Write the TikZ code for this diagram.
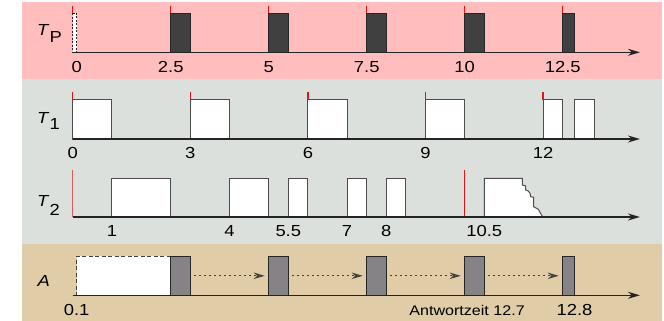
\documentclass[tikz,border=0pt]{standalone}
\usepackage{fontspec}
\setmainfont{Liberation Sans}[FakeStretch=1.15]
\usetikzlibrary{arrows.meta}
\definecolor{bgpink}{RGB}{255,189,189}
\definecolor{bggray}{RGB}{220,224,221}
\definecolor{bgtan}{RGB}{224,204,166}
\definecolor{darkbar}{RGB}{64,64,64}
\definecolor{graybar}{RGB}{134,131,134}
\definecolor{axiscol}{RGB}{35,35,35}
\definecolor{tickred}{RGB}{228,20,20}
\definecolor{softred}{RGB}{214,96,96}
\tikzset{
  axisline/.style={draw=axiscol, line width=1.3pt, -{Stealth[length=12pt,width=7pt]}},
  darkbox/.style={fill=darkbar, draw=black!85, line width=1pt},
  whitebox/.style={fill=white, draw=black!70, line width=1pt},
  graybox/.style={fill=graybar, draw=black!85, line width=1pt, anchor=south west, inner sep=0pt, outer sep=0pt, minimum height=39pt},
  dashbox/.style={draw=black!75, line width=1.1pt, dash pattern=on 4pt off 2.5pt},
  redtick/.style={draw=tickred, line width=1.3pt},
  ticklabel/.style={font=\fontsize{16}{19}\selectfont, inner sep=0pt, text=black},
  smalllabel/.style={font=\fontsize{14}{17}\selectfont, inner sep=0pt, text=black},
  rowlabel/.style={font=\fontsize{16}{19}\selectfont, inner sep=0pt, anchor=base west, text=black},
  waitarrow/.style={draw=black!75, line width=1.2pt, dash pattern=on 1.3pt off 3.7pt,
    -{Stealth[open,length=11pt,width=6.5pt]}, shorten <=4pt, shorten >=4pt}
}
\begin{document}
\begin{tikzpicture}[x=1pt,y=-1pt]
\useasboundingbox (0,0) rectangle (664,321);
% backgrounds
\fill[bgpink] (22,2) rectangle (662,79.3);
\fill[bggray] (22,79.3) rectangle (662,244.3);
\fill[bgtan] (22,244.3) rectangle (662,321);

% row labels
\node[rowlabel] (lp) at (37,36) {\textit{T}\raisebox{-6.3pt}{P}};
\node[rowlabel] (l1) at (37,123.3) {\textit{T}\raisebox{-6pt}{1}};
\node[rowlabel] (l2) at (37,206.7) {\textit{T}\raisebox{-9pt}{2}};
\node[rowlabel] (la) at (37.5,286.7) {\textit{A}};

% jagged (unfinished) job in T2
\draw[whitebox] (484.3,217) -- (484.3,178.3) -- (522.3,178.3) -- (522.3,185) -- (525.7,186) -- (525.7,190)
  -- (528.3,191) -- (530,193.3) -- (530.7,196.7) -- (533.7,197.3) -- (533.7,206.7) -- (538.3,209.3) -- (542.7,217);

\begin{scope}[x=39.2pt, xshift=72.7pt]
  % ---------- T_P ----------
  \foreach \t in {0,2.5,5,7.5,10,12.5} \draw[redtick] (\t,5.7) -- (\t,13.3);
  \fill[white] (0,13.3) rectangle (0.1,52.3);
  \draw[dashbox, draw=black!85, dash pattern=on 2pt off 1.5pt] (0,13.3) rectangle (0.1,52.3);
  \foreach \t in {2.5,5,7.5,10} \draw[darkbox] (\t,13.3) rectangle ++(0.5,39);
  \draw[darkbox] (12.5,13.3) rectangle (12.8,52.3);
  \coordinate (p0) at (0,52.3);
  \coordinate (p1) at (14.47,52.3);
  \draw[axisline] (p0) -- (p1);
  \node[ticklabel] (tp0) at (0.1,66.7) {0};
  \node[ticklabel] (tp1) at (2.5,66.7) {2.5};
  \node[ticklabel] (tp2) at (5,66.7) {5};
  \node[ticklabel] (tp3) at (7.5,66.7) {7.5};
  \node[ticklabel] (tp4) at (10,66.7) {10};
  \node[ticklabel] (tp5) at (12.5,66.7) {12.5};

  % ---------- T_1 ----------
  \foreach \a/\b in {0/1,3/4,6/7,9/10,12/12.5,12.8/13.3} \draw[whitebox] (\a,139) rectangle (\b,99.3);
  \foreach \t in {0,3,6,9,12} \draw[redtick] (\t,92.3) -- (\t,99.8);
  \coordinate (q0) at (0,139);
  \coordinate (q1) at (14.47,139);
  \draw[axisline] (q0) -- (q1);
  \node[ticklabel] (t10) at (0,152.5) {0};
  \node[ticklabel] (t11) at (3,152.5) {3};
  \node[ticklabel] (t12) at (6,152.5) {6};
  \node[ticklabel] (t13) at (9,152.5) {9};
  \node[ticklabel] (t14) at (12,152.5) {12};

  % ---------- T_2 ----------
  \draw[draw=softred, line width=1.3pt] (0,170) -- (0,217);
  \draw[draw=tickred, line width=1.2pt] (10,170) -- (10,217);
  \foreach \a/\b in {1/2.5,4/5,5.5/6,7/7.5,8/8.5} \draw[whitebox] (\a,217) rectangle (\b,178.3);
  \coordinate (r0) at (0,217);
  \coordinate (r1) at (14.47,217);
  \draw[axisline] (r0) -- (r1);
  \node[ticklabel] (t21) at (1,231) {1};
  \node[ticklabel] (t22) at (4,231) {4};
  \node[ticklabel] (t23) at (5.5,231) {5.5};
  \node[ticklabel] (t24) at (7,231) {7};
  \node[ticklabel] (t25) at (8,231) {8};
  \node[ticklabel] (t26) at (10.5,231) {10.5};

  % ---------- A ----------
  \fill[white] (0.1,256.3) rectangle (2.5,295.3);
  \draw[dashbox] (2.5,256.3) -- (0.1,256.3) -- (0.1,295.3);
  \node[graybox, minimum width=19.6pt] (g1) at (2.5,295.3) {};
  \node[graybox, minimum width=19.6pt] (g2) at (5,295.3) {};
  \node[graybox, minimum width=19.6pt] (g3) at (7.5,295.3) {};
  \node[graybox, minimum width=19.6pt] (g4) at (10,295.3) {};
  \node[graybox, minimum width=11.8pt] (g5) at (12.5,295.3) {};
  \draw[waitarrow] (g1.east) -- (g2.west);
  \draw[waitarrow] (g2.east) -- (g3.west);
  \draw[waitarrow] (g3.east) -- (g4.west);
  \draw[waitarrow] (g4.east) -- (g5.west);
  \coordinate (s0) at (0,295.3);
  \coordinate (s1) at (14.47,295.3);
  \draw[axisline] (s0) -- (s1);
  \node[ticklabel] (ta0) at (0.1,310) {0.1};
  \node[smalllabel] (ta1) at (10.06,310) {Antwortzeit 12.7};
  \node[ticklabel] (ta2) at (12.8,310) {12.8};
\end{scope}
\end{tikzpicture}
\end{document}
